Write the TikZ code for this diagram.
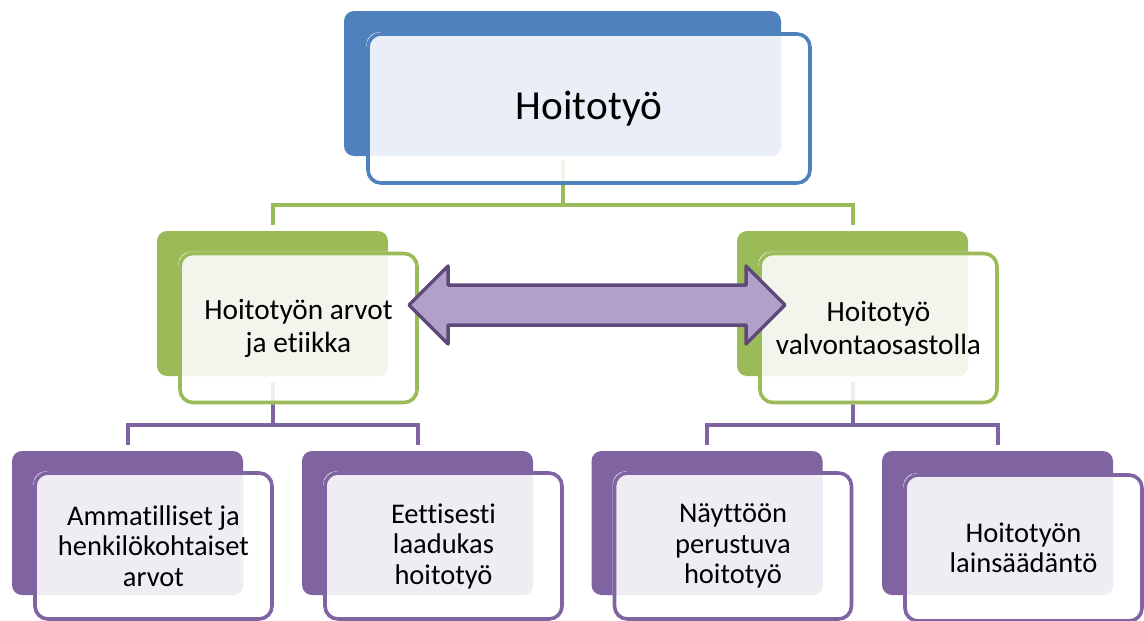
\documentclass[tikz,border=0pt]{standalone}
\usepackage{fontspec}
\setmainfont{Carlito}[RawFeature={-liga;-clig;-calt;-dlig}]
\definecolor{blueD}{HTML}{4F81BD}
\definecolor{blueL}{HTML}{EAEFF7}
\definecolor{greenD}{HTML}{9BBB59}
\definecolor{greenL}{HTML}{F2F5EC}
\definecolor{purpD}{HTML}{8064A2}
\definecolor{purpL}{HTML}{EFECF3}
\definecolor{arrF}{HTML}{B1A0C7}
\definecolor{arrD}{HTML}{5F497A}
\pgfdeclarelayer{conn}
\pgfdeclarelayer{back}
\pgfdeclarelayer{fillL}
\pgfsetlayers{conn,back,fillL,main}
\tikzset{
  backbox/.style={rounded corners=10pt, minimum width=231pt, minimum height=145pt, inner sep=0pt},
  frontbox/.style={rounded corners=13pt, minimum width=237pt, minimum height=149pt, inner sep=0pt, line width=3.6pt, align=center, text=black},
  midfont/.style={font=\fontsize{29.3}{33}\selectfont},
  lowfont/.style={font=\fontsize{28.5}{30.5}\selectfont},
  gline/.style={draw=greenD, line width=4pt},
  pline/.style={draw=purpD, line width=4pt},
  whitefill/.style={fill=white, fill opacity=0.88, rounded corners=13pt},
  arrowst/.style={fill=arrF, draw=arrD, line width=3.5pt, line join=round},
}
\begin{document}
\begin{tikzpicture}[x=1pt,y=-1pt]
\useasboundingbox (0,0) rectangle (1144,621);

% ---------- top ----------
\begin{pgfonlayer}{back}
\node[backbox, fill=blueD, minimum width=437pt] (topB) at (562.5,83.5) {};
\end{pgfonlayer}
\node[frontbox, draw=blueD, minimum width=442pt, font=\fontsize{41.3}{48}\selectfont] (top) at (589,108.5) {Hoitotyö};
\begin{pgfonlayer}{fillL}
\fill[whitefill] (top.north west) rectangle (top.south east);
\fill[blueL, rounded corners=10pt] ([xshift=3pt,yshift=-3pt]top.north west) rectangle (topB.south east);
\end{pgfonlayer}

% ---------- middle left ----------
\begin{pgfonlayer}{back}
\node[backbox, fill=greenD] (mlB) at (272.5,303.5) {};
\end{pgfonlayer}
\node[frontbox, draw=greenD, midfont] (ml) at (298.5,328) {Hoitotyön arvot\\ja etiikka};
\begin{pgfonlayer}{fillL}
\fill[whitefill] (ml.north west) rectangle (ml.south east);
\fill[greenL, rounded corners=10pt] ([xshift=3pt,yshift=-3pt]ml.north west) rectangle (mlB.south east);
\end{pgfonlayer}

% ---------- middle right ----------
\begin{pgfonlayer}{back}
\node[backbox, fill=greenD] (mrB) at (852.5,303.5) {};
\end{pgfonlayer}
\node[frontbox, draw=greenD, midfont] (mr) at (878.5,328) {Hoitotyö\\valvontaosastolla};
\begin{pgfonlayer}{fillL}
\fill[whitefill] (mr.north west) rectangle (mr.south east);
\fill[greenL, rounded corners=10pt] ([xshift=3pt,yshift=-3pt]mr.north west) rectangle (mrB.south east);
\end{pgfonlayer}

% ---------- bottom ----------
\begin{pgfonlayer}{back}
\node[backbox, fill=purpD, minimum height=144pt] (b1B) at (127.5,523) {};
\node[backbox, fill=purpD, minimum height=144pt] (b2B) at (417.5,523) {};
\node[backbox, fill=purpD, minimum height=144pt] (b3B) at (707,523) {};
\node[backbox, fill=purpD, minimum height=144pt] (b4B) at (997.5,523) {};
\end{pgfonlayer}
\node[frontbox, draw=purpD, lowfont, minimum height=146pt] (b1) at (153.5,546) {Ammatilliset ja\\henkilökohtaiset\\arvot};
\node[frontbox, draw=purpD, lowfont, minimum height=146pt] (b2) at (443.5,546) {Eettisesti\\laadukas\\hoitotyö};
\node[frontbox, draw=purpD, lowfont, minimum height=146pt] (b3) at (733,546) {Näyttöön\\perustuva\\hoitotyö};
\node[frontbox, draw=purpD, lowfont, minimum height=146pt] (b4) at (1023.5,548) {Hoitotyön\\lainsäädäntö};
\begin{pgfonlayer}{fillL}
\foreach \n in {b1,b2,b3,b4}{
  \fill[whitefill] (\n.north west) rectangle (\n.south east);
  \fill[purpL, rounded corners=10pt] ([xshift=3pt,yshift=-3pt]\n.north west) rectangle (\n B.south east);
}
\end{pgfonlayer}

% ---------- connectors ----------
\begin{pgfonlayer}{conn}
\draw[gline] ([yshift=-4pt]topB.south) -- ++(0,45) -| ([yshift=6pt]mlB.north);
\draw[gline] ([yshift=-4pt]topB.south) -- ++(0,45) -| ([yshift=6pt]mrB.north);
\draw[pline] ([yshift=-6pt]mlB.south) -- ++(0,43) -| ([yshift=6pt]b1B.north);
\draw[pline] ([yshift=-6pt]mlB.south) -- ++(0,43) -| ([yshift=6pt]b2B.north);
\draw[pline] ([yshift=-6pt]mrB.south) -- ++(0,43) -| ([yshift=6pt]b3B.north);
\draw[pline] ([yshift=-6pt]mrB.south) -- ++(0,43) -| ([yshift=6pt]b4B.north);
\end{pgfonlayer}

% ---------- double arrow ----------
\draw[arrowst] (409,305) -- (448,266) -- (448,285) -- (746,285) -- (746,266) -- (785,305)
  -- (746,344) -- (746,325) -- (448,325) -- (448,344) -- cycle;
\end{tikzpicture}
\end{document}
